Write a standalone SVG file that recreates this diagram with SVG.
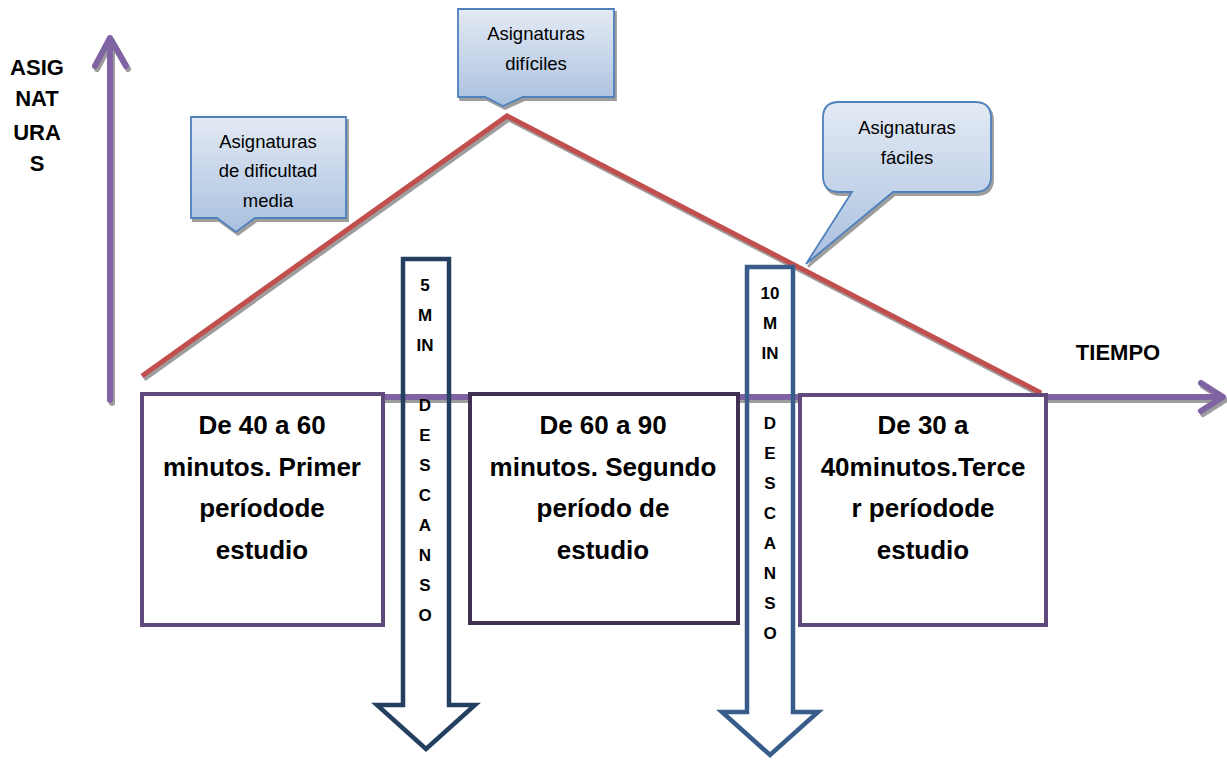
<svg xmlns="http://www.w3.org/2000/svg" width="1227" height="761" viewBox="0 0 1227 761">
<defs>
<filter id="sh" x="-10%" y="-10%" width="130%" height="130%">
<feDropShadow dx="2" dy="3" stdDeviation="0.6" flood-color="#8c8c8c" flood-opacity="0.85"/>
</filter>
<linearGradient id="cg" x1="0" y1="0" x2="0" y2="1">
<stop offset="0" stop-color="#E3EAF4"/>
<stop offset="1" stop-color="#A9C0DF"/>
</linearGradient>
<style>
.ax{fill:none;stroke:#8064A2;stroke-width:6;stroke-linecap:round;stroke-linejoin:round}
.red{fill:none;stroke:#C0504D;stroke-width:5}
.call{fill:url(#cg);stroke:#4F81BD;stroke-width:1.8}
.ct{font-family:"Liberation Sans",Arial,sans-serif;font-size:18.5px;fill:#000;text-anchor:middle}
.box{fill:#fff;stroke-width:4}
.bt{font-family:"Liberation Sans",Arial,sans-serif;font-size:26px;font-weight:bold;fill:#000;text-anchor:middle}
.arr{fill:none;stroke-width:4.5;stroke-linejoin:miter}
.vt{font-family:"Liberation Sans",Arial,sans-serif;font-size:17px;font-weight:bold;fill:#000;text-anchor:middle}
.lab{font-family:"Liberation Sans",Arial,sans-serif;font-weight:bold;fill:#000;text-anchor:middle}
</style>
</defs>
<rect width="1227" height="761" fill="#fff"/>

<g id="connectors">
<g filter="url(#sh)">
<line class="ax" x1="110" y1="400" x2="110" y2="39"/>
<polyline class="ax" points="95,66 110,38 126,66"/>
<line class="ax" x1="143" y1="397" x2="1222" y2="397"/>
<polyline class="ax" points="1201,383 1223,397 1201,411"/>
<polyline class="red" points="142,376 507,116 1041,393"/>
</g>
</g>

<g id="label-asignaturas">
<text class="lab" font-size="22"><tspan x="37" y="75">ASIG</tspan><tspan x="37" y="106">NAT</tspan><tspan x="37" y="140">URA</tspan><tspan x="37" y="171">S</tspan></text>
</g>
<g id="label-tiempo">
<text class="lab" font-size="22" x="1118" y="360">TIEMPO</text>
</g>

<g id="callout-media">
<path class="call" filter="url(#sh)" d="M191,117 H346 V218 H255 L236,232 L217,218 H191 Z"/>
<text class="ct"><tspan x="268" y="148">Asignaturas</tspan><tspan x="268" y="177">de dificultad</tspan><tspan x="268" y="207">media</tspan></text>
</g>
<g id="callout-dificiles">
<path class="call" filter="url(#sh)" d="M458,9 H614 V97 H523 L503,106 L485,97 H458 Z"/>
<text class="ct"><tspan x="536" y="40">Asignaturas</tspan><tspan x="536" y="70">difíciles</tspan></text>
</g>
<g id="callout-faciles">
<path class="call" filter="url(#sh)" d="M839,102 H975 Q991,102 991,118 V176 Q991,192 975,192 H893 L806,264 L852,192 H839 Q823,192 823,176 V118 Q823,102 839,102 Z"/>
<text class="ct"><tspan x="907" y="134">Asignaturas</tspan><tspan x="907" y="164">fáciles</tspan></text>
</g>

<g id="box1">
<rect class="box" x="142" y="394" width="241" height="231" stroke="#604A7B"/>
<text class="bt"><tspan x="262" y="434">De 40 a 60</tspan><tspan x="262" y="475.5">minutos. Primer</tspan><tspan x="262" y="517">períodode</tspan><tspan x="262" y="558.5">estudio</tspan></text>
</g>
<g id="box2">
<rect class="box" x="470" y="394" width="268" height="229" stroke="#403152"/>
<text class="bt"><tspan x="603" y="434">De 60 a 90</tspan><tspan x="603" y="475.5">minutos. Segundo</tspan><tspan x="603" y="517">período de</tspan><tspan x="603" y="558.5">estudio</tspan></text>
</g>
<g id="box3">
<rect class="box" x="800" y="395" width="246" height="230" stroke="#604A7B"/>
<text class="bt"><tspan x="923" y="434">De 30 a</tspan><tspan x="923" y="475.5">40minutos.Terce</tspan><tspan x="923" y="517">r períodode</tspan><tspan x="923" y="558.5">estudio</tspan></text>
</g>

<g id="arrow-5min">
<path class="arr" stroke="#243F60" d="M403,259 H449 V705 H475 L426,749 L377,705 H403 Z"/>
<text class="vt"><tspan x="425" y="291">5</tspan><tspan x="425" y="321">M</tspan><tspan x="425" y="351">IN</tspan><tspan x="425" y="411">D</tspan><tspan x="425" y="441">E</tspan><tspan x="425" y="471">S</tspan><tspan x="425" y="501">C</tspan><tspan x="425" y="531">A</tspan><tspan x="425" y="561">N</tspan><tspan x="425" y="591">S</tspan><tspan x="425" y="621">O</tspan></text>
</g>
<g id="arrow-10min">
<path class="arr" stroke="#385D8A" d="M747,267 H793 V712 H818 L770,755 L722,712 H747 Z"/>
<text class="vt"><tspan x="770" y="299">10</tspan><tspan x="770" y="329">M</tspan><tspan x="770" y="359">IN</tspan><tspan x="770" y="429">D</tspan><tspan x="770" y="459">E</tspan><tspan x="770" y="489">S</tspan><tspan x="770" y="519">C</tspan><tspan x="770" y="549">A</tspan><tspan x="770" y="579">N</tspan><tspan x="770" y="609">S</tspan><tspan x="770" y="639">O</tspan></text>
</g>
</svg>
